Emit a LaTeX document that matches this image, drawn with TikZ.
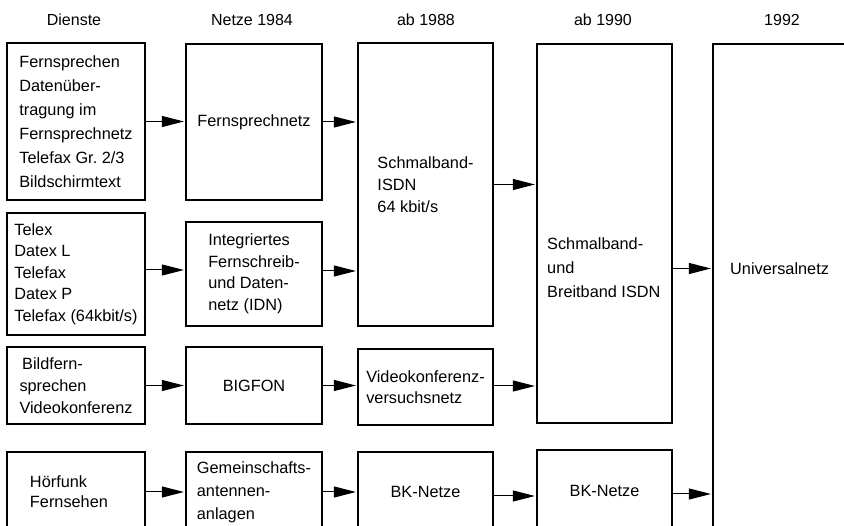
\documentclass[tikz,border=0pt]{standalone}
\usepackage{fontspec}
\setmainfont{Liberation Sans}
\usetikzlibrary{arrows.meta,calc}
\begin{document}
\frenchspacing
\begin{tikzpicture}[x=1pt,y=-1pt,
  box/.style={draw, line width=1.2pt, inner sep=0pt, align=left},
  fs/.style={font=\fontsize{16.3}{#1}\selectfont},
  arr/.style={line width=1pt, shorten >=1.5pt, -{Triangle[length=22pt,width=11pt]}},
  hdr/.style={font=\fontsize{16}{19}\selectfont}]
\useasboundingbox (0,0) rectangle (844,526);
\clip (0,0) rectangle (844,526);
% headers
\node[hdr] (h1) at (74,20) {Dienste};
\node[hdr] (h2) at (252,20) {Netze 1984};
\node[hdr] (h3) at (426,20) {ab 1988};
\node[hdr] (h4) at (603,20) {ab 1990};
\node[hdr] (h5) at (782,20) {1992};
% column 1
\node[box, fs=24, minimum width=138pt, minimum height=157pt] (b11) at (76,121.5)
  {Fernsprechen\\Datenüber-\\tragung im\\Fernsprechnetz\\Telefax Gr. 2/3\\Bildschirmtext};
\node[box, fs=21.5, minimum width=138pt, minimum height=122pt] (b12) at (76,274)
  {Telex\\Datex L\\Telefax\\Datex P\\Telefax (64kbit/s)};
\node[box, fs=22, minimum width=138pt, minimum height=77pt] (b13) at (76,385.5)
  {\,Bildfern-\\sprechen\\Videokonferenz};
\node[box, fs=20, minimum width=138pt, minimum height=80pt, text width=92pt] (b14) at (76,492)
  {Hörfunk\\Fernsehen};
% column 2
\node[box, fs=22, minimum width=136pt, minimum height=156pt] (b21) at (254,122)
  {Fernsprechnetz};
\node[box, fs=21.5, minimum width=136pt, minimum height=104pt] (b22) at (254,274)
  {Integriertes\\Fernschreib-\\und Daten-\\netz (IDN)};
\node[box, fs=22, minimum width=136pt, minimum height=77pt] (b23) at (254,385.5)
  {BIGFON};
\node[box, fs=23, minimum width=136pt, minimum height=80pt] (b24) at (254,492)
  {Gemeinschafts-\\antennen-\\anlagen};
% column 3
\node[box, fs=22, minimum width=135pt, minimum height=283pt] (b31) at (425.5,184.5)
  {Schmalband-\\ISDN\\64 kbit/s};
\node[box, fs=21, minimum width=135pt, minimum height=76pt] (b32) at (425.5,387)
  {Videokonferenz-\\versuchsnetz};
\node[box, fs=22, minimum width=135pt, minimum height=80pt] (b33) at (425.5,492)
  {BK-Netze};
% column 4
\node[box, minimum width=135pt, minimum height=379pt] (b41) at (604.5,233.5) {};
\node[fs=24, align=left, anchor=west, inner sep=0pt] (t41) at (547,268)
  {Schmalband-\\und\\Breitband ISDN};
\node[box, fs=22, minimum width=135pt, minimum height=82pt] (b42) at (604.5,491)
  {BK-Netze};
% column 5
\node[box, minimum width=150pt, minimum height=488pt] (b5) at (788,288) {};
\node[fs=20, anchor=west, inner sep=0pt] (t5) at (730,269) {Universalnetz};
% arrows
\draw[arr] (b11.east) -- (b11.east -| b21.west);
\draw[arr] (b21.east) -- (b21.east -| b31.west);
\draw[arr] (b31.east) -- (b31.east -| b41.west);
\draw[arr] ([yshift=-35pt]b41.east) -- ([yshift=-35pt]b41.east -| b5.west);
\draw[arr] ([yshift=4pt]b12.east) -- ([yshift=4pt]b12.east -| b22.west);
\draw[arr] ([yshift=3pt]b22.east) -- ([yshift=3pt]b22.east -| b31.west);
\draw[arr] (b13.east) -- (b13.east -| b23.west);
\draw[arr] (b23.east) -- (b23.east -| b32.west);
\draw[arr] ([yshift=1pt]b32.east) -- ([yshift=1pt]b32.east -| b41.west);
\draw[arr] (b14.east) -- (b14.east -| b24.west);
\draw[arr] (b24.east) -- (b24.east -| b33.west);
\draw[arr] ([yshift=-4pt]b33.east) -- ([yshift=-4pt]b33.east -| b42.west);
\draw[arr] ([yshift=-3pt]b42.east) -- ([yshift=-3pt]b42.east -| b5.west);
\end{tikzpicture}
\end{document}
